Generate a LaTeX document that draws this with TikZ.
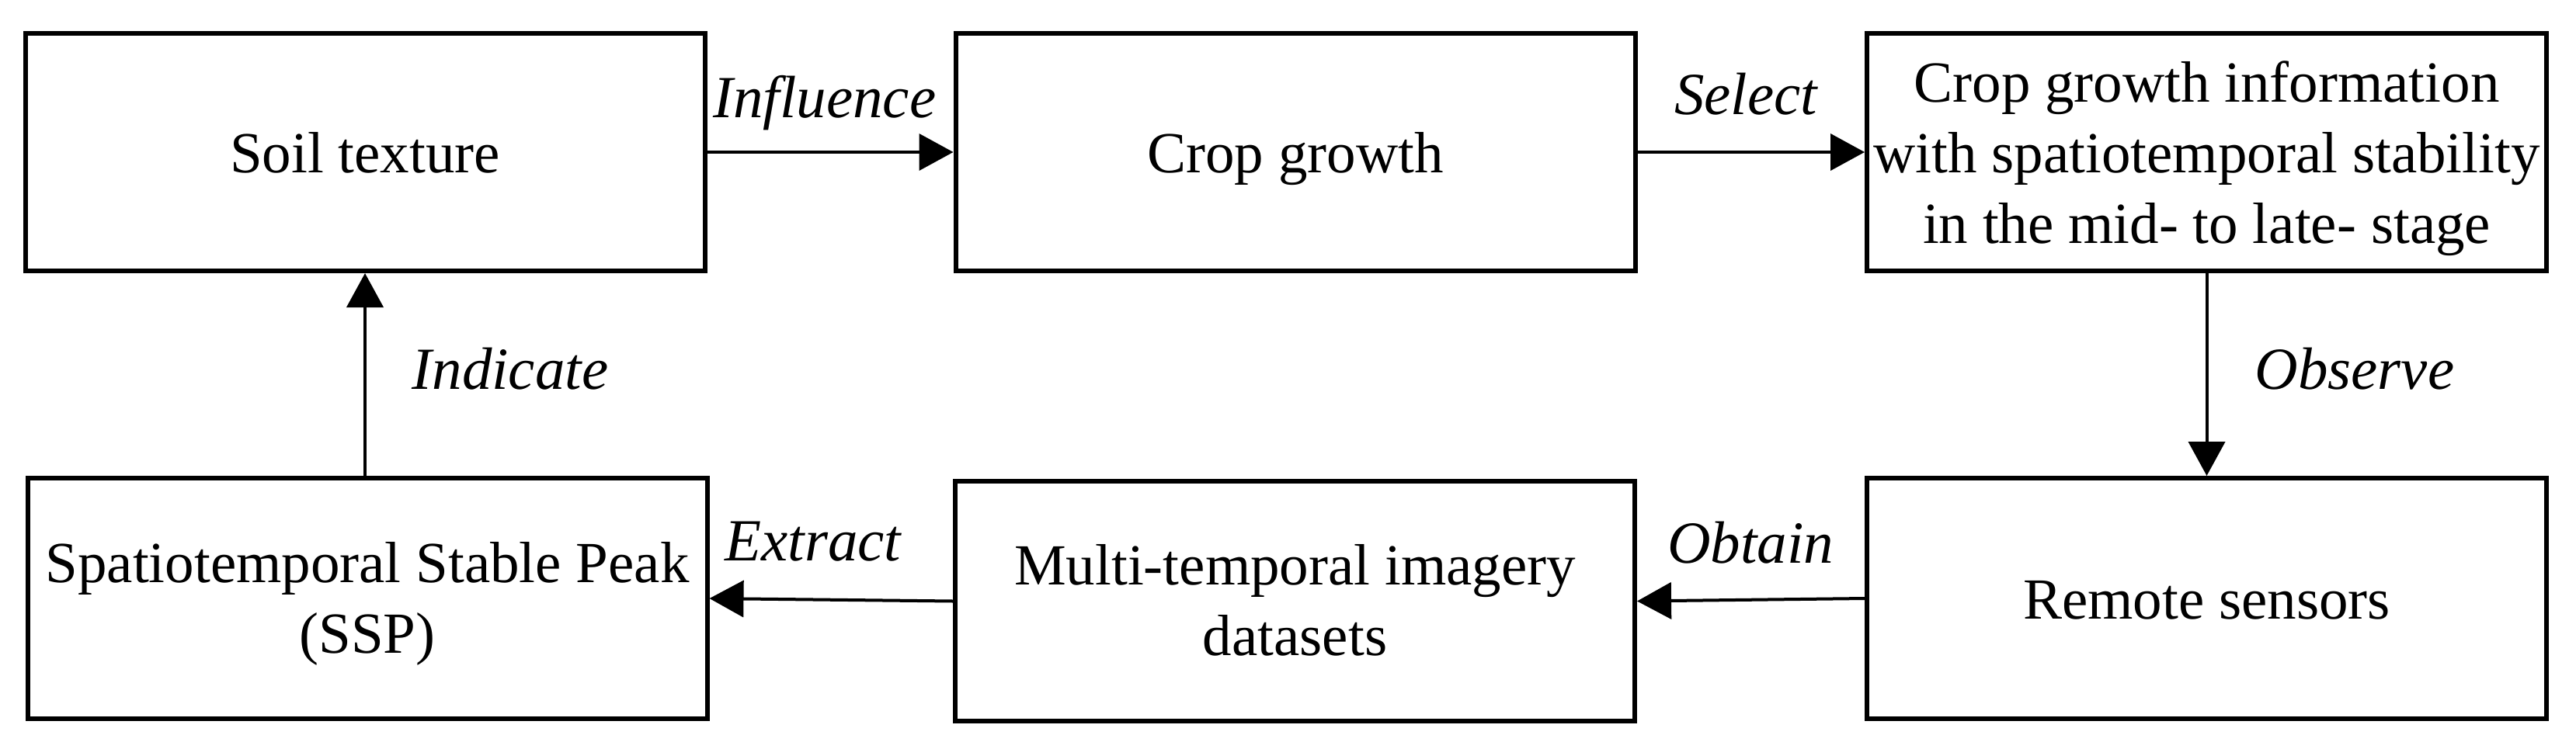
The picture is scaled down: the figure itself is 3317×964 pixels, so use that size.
\documentclass[tikz,border=0pt]{standalone}
\usepackage{fontspec}
\setmainfont{Liberation Serif}
\usetikzlibrary{arrows.meta}
\newcommand{\mlines}[1]{\begin{tabular}[b]{@{}c@{}}#1\end{tabular}}
\begin{document}
\begin{tikzpicture}[x=0.25pt,y=-0.25pt,
  box/.style={draw=black, line width=1.5pt, rectangle, inner sep=0pt,
    minimum width=218.75pt, font=\fontsize{18.75pt}{22.75pt}\selectfont, text depth=0pt},
  topbox/.style={box, minimum height=76.5pt},
  botbox/.style={box, minimum height=77.5pt},
  one/.style={text height=13.25pt},
  two/.style={text height=35pt},
  three/.style={text height=58.75pt},
  conn/.style={line width=1pt, -{Triangle[length=11pt,width=11.75pt]}},
  lbl/.style={font=\fontsize{19.25pt}{23pt}\selectfont\itshape, inner sep=0pt, anchor=base}]
\useasboundingbox (0,0) rectangle (3317,964);
% boxes
\node[topbox, one] (soil) at (470,196) {Soil texture};
\node[topbox, one] (crop) at (1668,196) {Crop growth};
\node[topbox, three] (info) at (2841.5,196) {\mlines{Crop growth information\\with spatiotemporal stability\\in the mid- to late- stage}};
\node[botbox, two] (ssp) at (473,771) {\mlines{Spatiotemporal Stable Peak\\(SSP)}};
\node[botbox, two, minimum height=77.25pt] (multi) at (1667.5,774.5) {\mlines{Multi-temporal imagery\\datasets}};
\node[botbox, one] (remote) at (2841.5,771) {Remote sensors};
% connectors
\draw[conn] (soil.east) -- (crop.west);
\draw[conn] (crop.east) -- (info.west);
\draw[conn] (info.south) -- (remote.north);
\draw[conn] (remote.west) -- (multi.east);
\draw[conn] (multi.west) -- (ssp.east);
\draw[conn] (ssp.north -| soil.south) -- (soil.south);
% labels
\node[lbl] (l1) at (1062,151) {Influence};
\node[lbl] (l2) at (2248,147) {Select};
\node[lbl] (l3) at (3032,501) {Observe};
\node[lbl] (l4) at (657,501) {Indicate};
\node[lbl] (l5) at (1047,722) {Extract};
\node[lbl] (l6) at (2254,725) {Obtain};
\end{tikzpicture}
\end{document}
